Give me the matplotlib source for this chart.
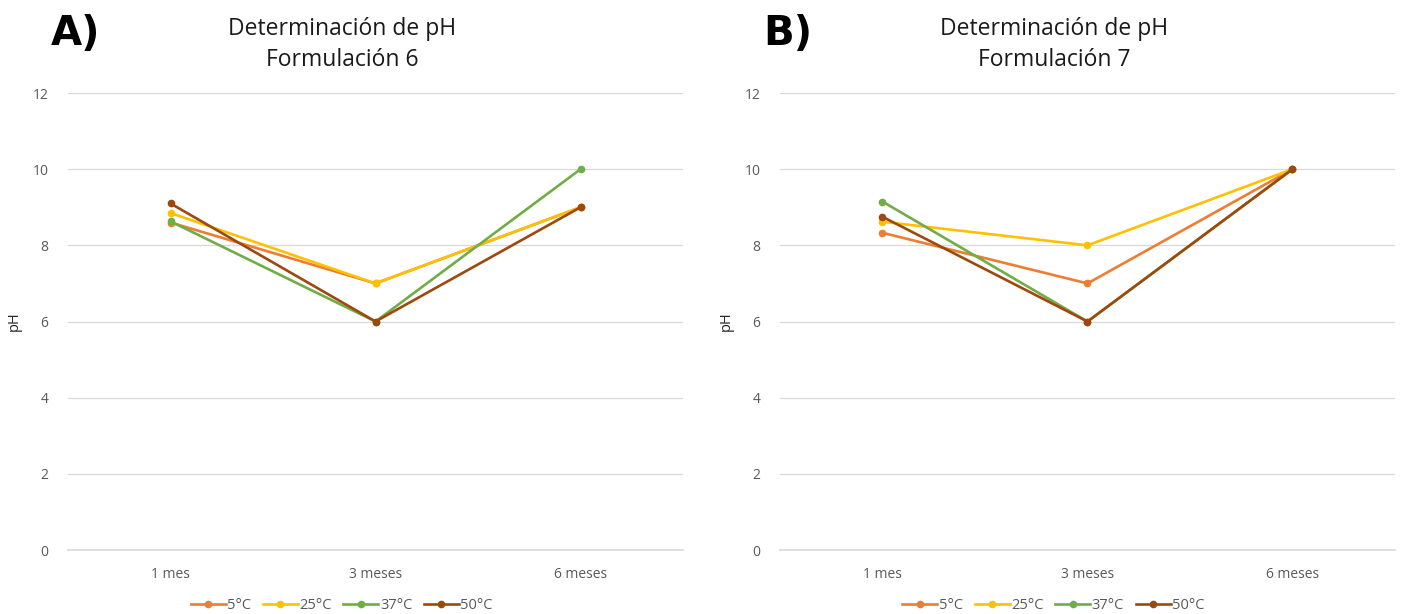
import matplotlib.pyplot as plt
import numpy as np

meses = ["1 mes", "3 meses", "6 meses"]
series = ["5°C", "25°C", "37°C", "50°C"]
colores = ["#ED7D31", "#FFC000", "#70AD47", "#9E480E"]

# Formulación 6
f6_5 = [8.6, 7.0, 9.0]
f6_25 = [8.85, 7.0, 9.0]
f6_37 = [8.63, 6.0, 10.0]
f6_50 = [9.1, 6.0, 9.0]

# Formulación 7
f7_5 = [8.33, 7.0, 10.0]
f7_25 = [8.62, 8.0, 10.0]
f7_37 = [9.15, 6.0, 10.0]
f7_50 = [8.75, 6.0, 10.0]

plt.rcParams['font.family'] = ['Open Sans', 'DejaVu Sans']

fig = plt.figure(figsize=(14.02, 6.14), dpi=100)


def panel(left, datos, titulo, letra, title_x):
    ax = fig.add_axes([left, 0.1042, 0.4387, 0.7443])
    x = np.arange(len(meses))
    for vals, nombre, c in zip(datos, series, colores):
        ax.plot(x, vals, color=c, lw=1.9, marker='o', ms=4.5, label=nombre)
    ax.set_xlim(-0.5, 2.5)
    ax.set_ylim(0, 12)
    ax.set_yticks(range(0, 13, 2))
    ax.set_xticks(x)
    ax.set_xticklabels(meses)
    ax.grid(axis='y', color='#D9D9D9', lw=0.9)
    ax.axhline(0, color='#D9D9D9', lw=1.2, clip_on=False, zorder=0)
    ax.set_axisbelow(True)
    for s in ['top', 'right', 'left', 'bottom']:
        ax.spines[s].set_visible(False)
    ax.tick_params(length=0, labelsize=10, colors='#595959', pad=12)
    ax.tick_params(axis='y', pad=14)
    ax.set_ylabel("pH", fontsize=10.5, color='#262626', labelpad=8)
    fig.text(title_x, 0.928, titulo, ha='center', va='center', fontsize=16.5, color='#1a1a1a',
             linespacing=1.4)
    fig.text(left - 0.012, 0.945, letra, ha='left', va='center', fontsize=29,
             fontweight='bold', family=['DejaVu Sans'])
    ax.legend(loc='center', bbox_to_anchor=(0.445, -0.122), ncol=4, frameon=False,
              fontsize=10.5, handlelength=2.4, handletextpad=0.1, columnspacing=0.8,
              labelcolor='#595959', borderaxespad=0, borderpad=0)
    return ax


panel(0.0485, [f6_5, f6_25, f6_37, f6_50],
      "Determinación de pH\nFormulación 6", "A)", 342 / 1402)
panel(0.5563, [f7_5, f7_25, f7_37, f7_50],
      "Determinación de pH\nFormulación 7", "B)", 1054 / 1402)

fig.savefig("out.png", dpi=100)
